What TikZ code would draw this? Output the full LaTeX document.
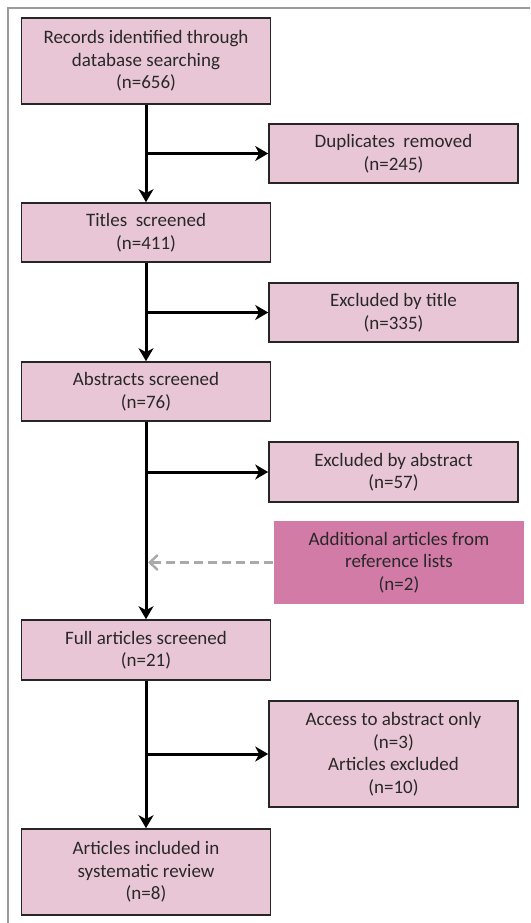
\documentclass[tikz,border=0pt]{standalone}
\usepackage{fontspec}
\setmainfont{Carlito}
\usetikzlibrary{arrows.meta,calc}
\definecolor{boxfill}{RGB}{233,198,213}
\definecolor{addfill}{RGB}{211,123,167}
\definecolor{txt}{RGB}{40,40,40}
\definecolor{framegray}{RGB}{155,155,155}
\definecolor{dashgray}{RGB}{170,170,170}
\begin{document}
\begin{tikzpicture}[x=1pt,y=-1pt,
  box/.style={draw=black!85, line width=1.6pt, fill=boxfill, text=txt,
    align=center, inner sep=0pt, minimum width=249pt,
    font=\fontsize{19}{22.5}\selectfont},
  addbox/.style={box, draw=none, fill=addfill, minimum width=250pt},
  flow/.style={line width=3pt, black,
    -{Stealth[length=13pt,width=15pt,inset=4pt]}},
  dashflow/.style={line width=2.4pt, dashgray, dash pattern=on 9pt off 5pt,
    -{Straight Barb[length=8pt,width=15pt,line width=2.4pt]}}
]
\useasboundingbox (0,0) rectangle (530,923);
\draw[framegray, line width=2.2pt] (8,923) -- (8,8) -- (530,8);

\node[box, minimum height=86pt] (b1) at (146,61)
  {Records identified through\\database searching\\(n=656)};
\node[box, minimum height=59pt] (dup) at (393.5,153.5)
  {Duplicates\hspace{0.45em}removed\\(n=245)};
\node[box, minimum height=59pt] (tit) at (146,232.5)
  {Titles\hspace{0.45em}screened\\(n=411)};
\node[box, minimum height=59pt] (ext) at (393.5,312.5)
  {Excluded by title\\(n=335)};
\node[box, minimum height=59pt] (abs) at (146,391.5)
  {Abstracts screened\\(n=76)};
\node[box, minimum height=60pt] (exa) at (393.5,472)
  {Excluded by abstract\\(n=57)};
\node[addbox, minimum height=83pt] (add) at (399,562.5)
  {Additional articles from\\reference lists\\(n=2)};
\node[box, minimum height=60pt] (full) at (146,650)
  {Full articles screened\\(n=21)};
\node[box, minimum height=106pt] (acc) at (393.5,754)
  {Access to abstract only\\(n=3)\\Articles excluded\\(n=10)};
\node[box, minimum height=86pt] (inc) at (146,872)
  {Articles included in\\systematic review\\(n=8)};

\coordinate (j1) at (b1.south |- dup.west);
\coordinate (j2) at (tit.south |- ext.west);
\coordinate (j3) at (abs.south |- exa.west);
\coordinate (j4) at (abs.south |- add.west);
\coordinate (j5) at (full.south |- acc.west);

\draw[flow] (b1.south) -- (tit.north);
\draw[flow] (j1) -- (dup.west);
\draw[flow] (tit.south) -- (abs.north);
\draw[flow] (j2) -- (ext.west);
\draw[flow] (abs.south) -- (full.north);
\draw[flow] (j3) -- (exa.west);
\draw[dashflow] (add.west) -- ([xshift=2pt]j4);
\draw[flow] (full.south) -- (inc.north);
\draw[flow] (j5) -- (acc.west);
\end{tikzpicture}
\end{document}
